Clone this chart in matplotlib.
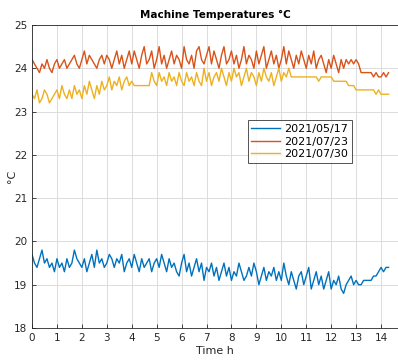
import numpy as np
import matplotlib
matplotlib.use('Agg')
import matplotlib.pyplot as plt

# Temperaturas, una muestra cada 0.1 h
paso_h = 0.1

temp_0517 = [
    19.7, 19.5, 19.4, 19.6, 19.8, 19.5, 19.6, 19.4, 19.5, 19.3,
    19.6, 19.4, 19.5, 19.3, 19.6, 19.4, 19.5, 19.8, 19.6, 19.5,
    19.4, 19.6, 19.3, 19.5, 19.7, 19.4, 19.8, 19.5, 19.6, 19.4,
    19.5, 19.7, 19.6, 19.4, 19.6, 19.5, 19.7, 19.3, 19.5, 19.6,
    19.4, 19.7, 19.5, 19.3, 19.6, 19.4, 19.5, 19.6, 19.3, 19.5,
    19.6, 19.4, 19.7, 19.5, 19.3, 19.6, 19.4, 19.5, 19.3, 19.2,
    19.5, 19.7, 19.3, 19.5, 19.2, 19.4, 19.6, 19.3, 19.5, 19.1,
    19.4, 19.3, 19.5, 19.2, 19.4, 19.1, 19.3, 19.5, 19.2, 19.4,
    19.1, 19.3, 19.2, 19.5, 19.3, 19.1, 19.2, 19.4, 19.2, 19.5,
    19.3, 19.0, 19.2, 19.4, 19.1, 19.3, 19.2, 19.4, 19.1, 19.3,
    19.1, 19.5, 19.2, 19.0, 19.3, 19.1, 18.9, 19.2, 19.3, 19.0,
    19.2, 19.4, 18.9, 19.1, 19.3, 19.0, 19.2, 18.9, 19.1, 19.3,
    18.9, 19.1, 19.0, 19.2, 18.9, 18.8, 19.0, 19.1, 19.2, 19.0,
    19.1, 19.0, 19.0, 19.1, 19.1, 19.1, 19.1, 19.2, 19.2, 19.3,
    19.4, 19.3, 19.4, 19.4,
]

temp_0723 = [
    24.2, 24.1, 24.0, 23.9, 24.1, 24.0, 24.2, 24.0, 23.9, 24.1,
    24.2, 24.0, 24.1, 24.2, 24.0, 24.1, 24.2, 24.3, 24.1, 24.0,
    24.2, 24.4, 24.1, 24.3, 24.2, 24.1, 24.0, 24.2, 24.3, 24.1,
    24.3, 24.2, 24.0, 24.2, 24.4, 24.1, 24.3, 24.0, 24.2, 24.4,
    24.1, 24.4, 24.2, 24.0, 24.3, 24.5, 24.1, 24.2, 24.4, 24.0,
    24.2, 24.5, 24.1, 24.3, 24.0, 24.2, 24.4, 24.1, 24.3, 24.2,
    24.0, 24.5, 24.2, 24.1, 24.3, 24.0, 24.4, 24.5, 24.2, 24.1,
    24.3, 24.5, 24.1, 24.4, 24.2, 24.0, 24.3, 24.5, 24.1, 24.2,
    24.4, 24.1, 24.3, 24.0, 24.2, 24.5, 24.1, 24.3, 24.2, 24.0,
    24.4, 24.1, 24.3, 24.5, 24.0, 24.2, 24.4, 24.1, 24.3, 24.0,
    24.2, 24.5, 24.1, 24.4, 24.2, 24.0, 24.3, 24.1, 24.4, 24.2,
    24.0, 24.3, 24.1, 24.4, 24.0, 24.2, 24.3, 24.1, 23.9, 24.2,
    24.0, 24.3, 24.1, 23.9, 24.2, 24.0, 24.2, 24.1, 24.2, 24.1,
    24.2, 24.1, 23.9, 23.9, 23.9, 23.9, 23.9, 23.8, 23.9, 23.8,
    23.8, 23.9, 23.8, 23.9,
]

temp_0730 = [
    23.4, 23.3, 23.5, 23.2, 23.3, 23.5, 23.4, 23.2, 23.3, 23.4,
    23.5, 23.3, 23.6, 23.4, 23.3, 23.5, 23.3, 23.6, 23.4, 23.5,
    23.3, 23.6, 23.4, 23.7, 23.5, 23.3, 23.6, 23.4, 23.7, 23.5,
    23.6, 23.8, 23.5, 23.7, 23.6, 23.8, 23.5, 23.7, 23.8, 23.6,
    23.7, 23.6, 23.6, 23.6, 23.6, 23.6, 23.6, 23.6, 23.9, 23.7,
    23.6, 23.9, 23.7, 23.8, 23.6, 23.9, 23.7, 23.8, 23.6, 23.9,
    23.7, 23.6, 23.9, 23.7, 23.8, 23.6, 23.9, 23.7, 23.6, 24.0,
    23.7, 23.9, 23.6, 23.8, 23.9, 23.7, 24.0, 23.8, 23.6, 23.9,
    23.7, 24.0, 23.8, 23.9, 23.6, 23.8, 24.0, 23.7, 23.9, 23.8,
    23.6, 23.9, 23.7, 24.0, 23.8, 23.7, 23.9, 23.6, 23.8, 24.0,
    23.7, 23.9, 23.8, 24.0, 23.8, 23.8, 23.8, 23.8, 23.8, 23.8,
    23.8, 23.8, 23.8, 23.8, 23.8, 23.7, 23.8, 23.8, 23.8, 23.8,
    23.8, 23.7, 23.7, 23.7, 23.7, 23.7, 23.7, 23.6, 23.6, 23.6,
    23.5, 23.5, 23.5, 23.5, 23.5, 23.5, 23.5, 23.5, 23.4, 23.5,
    23.4, 23.4, 23.4, 23.4,
]

fechas = ['2021/05/17', '2021/07/23', '2021/07/30']
colores = ['#0072BD', '#D95319', '#EDB120']

x_ticks = list(range(0, 15))
y_ticks = list(range(18, 26))

t = np.arange(len(temp_0517)) * paso_h

plt.rcParams['font.family'] = 'DejaVu Sans'
fig = plt.figure(figsize=(3.98, 3.6), dpi=100)
ax = fig.add_axes([0.0804, 0.0889, 0.9196, 0.8417])

for serie, fecha, color in zip([temp_0517, temp_0723, temp_0730], fechas, colores):
    ax.plot(t, serie, color=color, lw=1.0, label=fecha)

ax.set_xlim(0, 14.68)
ax.set_ylim(18, 25)
ax.set_xticks(x_ticks)
ax.set_yticks(y_ticks)
ax.grid(True, color='#dcdcdc', lw=0.7)
ax.set_axisbelow(True)
ax.tick_params(direction='in', labelsize=7.5, colors='#262626', length=3, width=0.6)
for lado in ['left', 'bottom', 'top']:
    ax.spines[lado].set_color('#262626')
    ax.spines[lado].set_linewidth(0.6)
ax.spines['right'].set_visible(False)

ax.set_title('Machine Temperatures °C', fontsize=7.5, fontweight='bold', pad=5)
ax.set_xlabel('Time h', fontsize=8, color='#262626', labelpad=2)
ax.set_ylabel('°C', fontsize=8, color='#262626')
ax.yaxis.set_label_coords(-0.04, 0.5)

leg = ax.legend(loc='upper left', bbox_to_anchor=(0.59, 0.685), fontsize=8,
                frameon=True, fancybox=False, borderpad=0.3, labelspacing=0.25,
                handlelength=2.6, handletextpad=0.4, borderaxespad=0)
leg.get_frame().set_edgecolor('#262626')
leg.get_frame().set_linewidth(0.7)

fig.savefig('out.png', dpi=100)
